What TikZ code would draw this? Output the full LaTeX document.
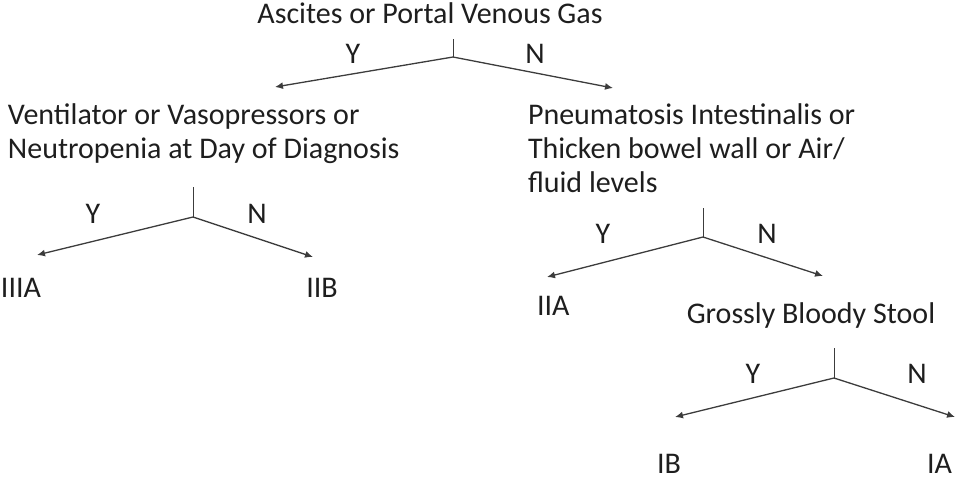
\documentclass[tikz,border=0pt]{standalone}
\usepackage{fontspec}
\setmainfont{Carlito}
\usetikzlibrary{arrows.meta, positioning}
\definecolor{LineGray}{RGB}{60,60,60}
\definecolor{TextGray}{RGB}{30,30,30}
\tikzset{
  >=latex,  % frecce piccole
  % Testi dei nodi
  txt/.style={inner sep=0, outer sep=0, text=TextGray, font=\fontsize{30}{34}\selectfont},
  txt left/.style={txt, anchor=base west, align=left},
  txt right/.style={txt, anchor=base east},
  txt mid/.style={txt, anchor=base},
  yn/.style={txt mid},
  % Rami
  stem/.style={LineGray, line width=1pt},
  branch/.style={-{Latex[length=8,width=7]}, LineGray, line width=1.3pt}
}

\begin{document}
\begin{tikzpicture}[x=1pt, y=-1pt]
    \useasboundingbox (0,0) rectangle (964,488);
    % domande (base = ultima riga)
    \node[txt mid] (root) at (430,23) {Ascites or Portal Venous Gas};
    \node[txt left] (vent) at (8,158) {Ventilator or Vasopressors or\\Neutropenia at Day of Diagnosis};
    \node[txt left] (pneu) at (528,192) {Pneumatosis Intestinalis or\\Thicken bowel wall or Air/\\fluid levels};
    \node[txt mid] (stool) at (811,323) {Grossly Bloody Stool};
    % esiti
    \node[txt left] (iiia) at (1,297) {IIIA};
    \node[txt mid] (iib) at (322,297) {IIB};
    \node[txt left] (iia) at (537,315) {IIA};
    \node[txt left] (ib) at (657,473) {IB};
    \node[txt right] (ia) at (952,473) {IA};
    % nodo 1
    \coordinate (t1) at (453,39);
    \coordinate (j1) at (453,57);
    \coordinate (y1) at (275,87);
    \coordinate (n1) at (613,88);
    \draw[stem] (t1) -- (j1);
    \draw[branch] (j1) -- (y1);
    \draw[branch] (j1) -- (n1);
    \node[yn] at (353,63) {Y};
    \node[yn] at (535,63) {N};
    % nodo 2
    \coordinate (t2) at (193,187);
    \coordinate (j2) at (193,217);
    \coordinate (y2) at (37,255);
    \coordinate (n2) at (313,257);
    \draw[stem] (t2) -- (j2);
    \draw[branch] (j2) -- (y2);
    \draw[branch] (j2) -- (n2);
    \node[yn] at (93,223) {Y};
    \node[yn] at (257,223) {N};
    % nodo 3
    \coordinate (t3) at (703,208);
    \coordinate (j3) at (703,237);
    \coordinate (y3) at (547,277);
    \coordinate (n3) at (823,276);
    \draw[stem] (t3) -- (j3);
    \draw[branch] (j3) -- (y3);
    \draw[branch] (j3) -- (n3);
    \node[yn] at (603,243) {Y};
    \node[yn] at (767,243) {N};
    % nodo 4
    \coordinate (t4) at (834,348);
    \coordinate (j4) at (834,378);
    \coordinate (y4) at (675,417);
    \coordinate (n4) at (955,417);
    \draw[stem] (t4) -- (j4);
    \draw[branch] (j4) -- (y4);
    \draw[branch] (j4) -- (n4);
    \node[yn] at (753,383) {Y};
    \node[yn] at (917,383) {N};
\end{tikzpicture}
\end{document}
